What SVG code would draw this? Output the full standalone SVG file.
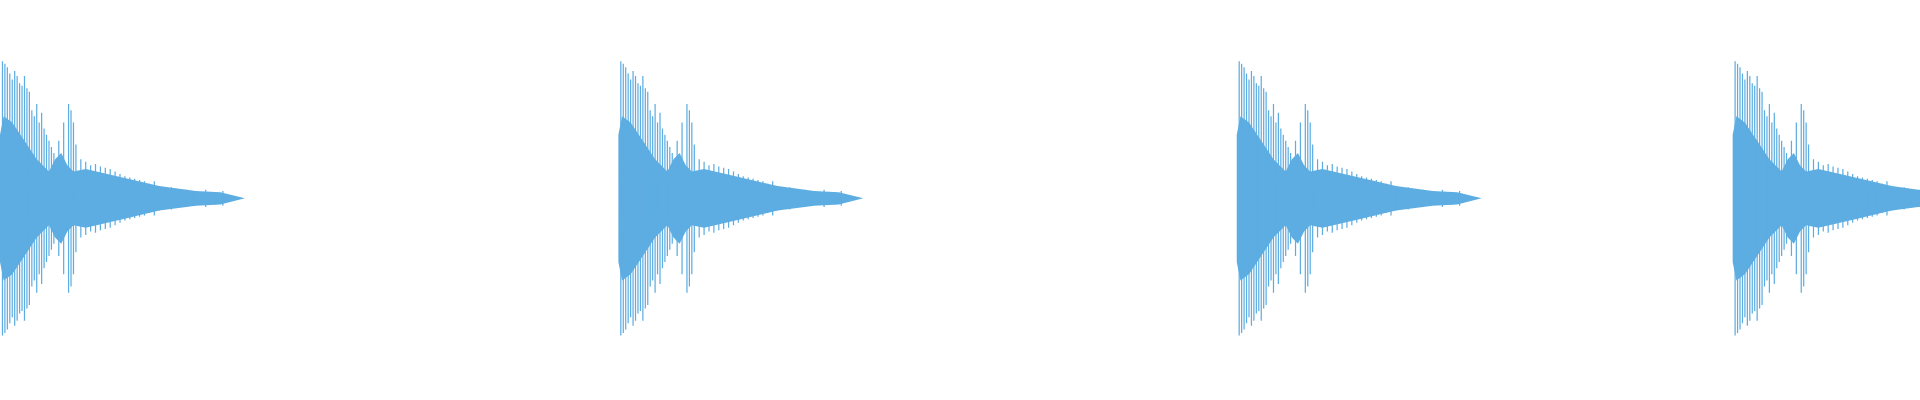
<svg xmlns="http://www.w3.org/2000/svg" width="1920" height="400" viewBox="0 0 1920 400">
<style>.core{fill:#5dade2}.sp{stroke:#5dade2;stroke-width:1;fill:none}</style>
<defs>
<g id="burst">
<polygon class="core" points="0,110 3,95 10,100 20,115 30,130 40,140 45,130 50,125 55,135 60,140 70,138 100,145 130,152 160,156 180,157 200,162 180,167 160,168 130,172 100,179 70,186 60,184 55,189 50,199 45,194 40,184 30,194 20,209 10,224 3,229 0,214"/>
<path class="sp" d="M2 50V274M4 52V272M6 55V269M8 60V264M10 65V259M12 58V266M14 62V262M16 68V256M18 70V254M20 62V262M22 72V252M24 75V249M26 90V234M28 95V229M30 85V239M32 100V224M34 92V232M36 105V219M38 110V214M40 115V209M42 120V204M44 125V199M48 115V209M52 100V224M56 85V239M58 90V234M60 100V224M62 118V206M66 130V194M70 132V192M74 135V189M78 134V190M82 136V188M86 137V187M90 138V186M94 140V184M98 142V182M102 144V180M106 145V179M110 146V178M114 147V177M118 148V176M122 150V174M126 148V176M130 152V172M134 154V170M140 153V171M146 155V169M152 155V169M158 156V168M168 155V169M176 157V167M182 156V168"/>
</g>
</defs>
<g transform="scale(1.2245)">
<use href="#burst" x="0"/>
<use href="#burst" x="505"/>
<use href="#burst" x="1010"/>
<use href="#burst" x="1415"/>
</g>
</svg>
